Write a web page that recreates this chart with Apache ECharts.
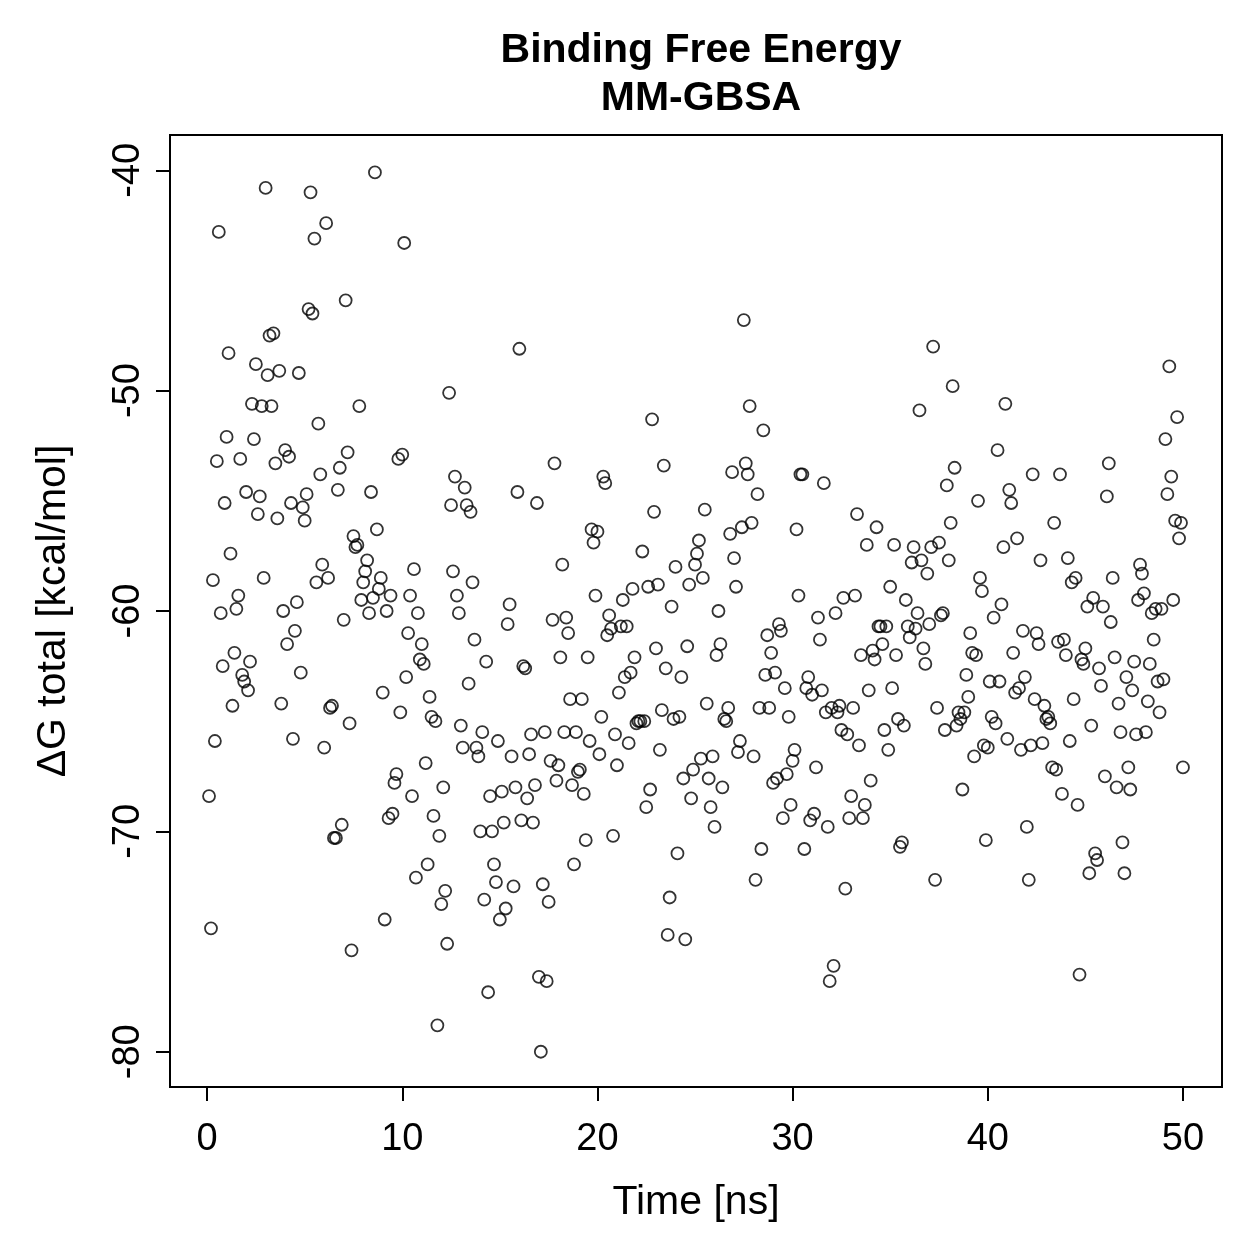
<!DOCTYPE html>
<html lang="en">
<head>
<meta charset="utf-8">
<title>Binding Free Energy MM-GBSA</title>
<script src="https://cdn.jsdelivr.net/npm/echarts@6/dist/echarts.min.js"></script>
<style>
body { margin: 0; background: #fff; }
#main { width: 1259px; height: 1259px; }
</style>
</head>
<body>
<div id="main"></div>
<script>
// frame spacing in ns (500 frames, 0.1 .. 50.0)
var frameStep = 0.1;
var xTicks = [0, 10, 20, 30, 40, 50];
var yTicks = [-80, -70, -60, -50, -40];

// dG total per frame [kcal/mol]
var dG = [
 -68.4,-74.4,-58.6,-65.9,-53.2,-42.8,-60.1,-62.5,-55.1,-52.1,
 -48.3,-57.4,-64.3,-61.9,-59.9,-59.3,-53.1,-62.9,-63.2,-54.6,
 -63.6,-62.3,-50.6,-52.2,-48.8,-55.6,-54.8,-50.7,-58.5,-40.8,
 -49.3,-47.5,-50.7,-47.4,-53.3,-55.8,-49.1,-64.2,-60.0,-52.7,
 -61.5,-53.0,-55.1,-65.8,-60.9,-59.6,-49.2,-62.8,-55.3,-55.9,
 -54.7,-46.3,-41.0,-46.5,-43.1,-58.7,-51.5,-53.8,-57.9,-66.2,
 -42.4,-58.5,-64.4,-64.3,-70.3,-70.3,-54.5,-53.5,-69.7,-60.4,
 -45.9,-52.8,-65.1,-75.4,-56.6,-57.1,-57.0,-50.7,-59.5,-58.7,
 -58.2,-57.7,-60.1,-54.6,-59.4,-40.1,-56.3,-59.0,-58.5,-63.7,
 -74.0,-60.0,-69.4,-59.3,-69.2,-67.8,-67.4,-53.1,-64.6,-52.9,
 -43.3,-63.0,-61.0,-59.3,-68.4,-58.1,-72.1,-60.1,-62.2,-61.5,
 -62.4,-66.9,-71.5,-63.9,-64.8,-69.3,-65.0,-78.8,-70.2,-73.3,
 -68.0,-72.7,-75.1,-50.1,-55.2,-58.2,-53.9,-59.3,-60.1,-65.2,
 -66.2,-54.4,-55.2,-63.3,-55.5,-58.7,-61.3,-66.2,-66.6,-70.0,
 -65.5,-73.1,-62.3,-77.3,-68.4,-70.0,-71.5,-72.3,-65.9,-74.0,
 -68.2,-69.6,-73.5,-60.6,-59.7,-66.6,-72.5,-68.0,-54.6,-48.1,
 -69.5,-62.5,-62.6,-68.5,-66.5,-65.6,-69.6,-67.9,-55.1,-76.6,
 -80.0,-72.4,-65.5,-76.8,-73.2,-66.8,-60.4,-53.3,-67.7,-67.0,
 -62.1,-57.9,-65.5,-60.3,-61.0,-64.0,-67.9,-71.5,-65.5,-67.3,
 -67.2,-64.0,-68.3,-70.4,-62.1,-65.9,-56.3,-56.9,-59.3,-56.4,
 -66.5,-64.8,-53.9,-54.2,-61.1,-60.2,-60.8,-70.2,-65.6,-67.0,
 -63.7,-60.7,-59.5,-63.0,-60.7,-66.0,-62.8,-59.0,-62.1,-65.1,
 -65.0,-65.0,-57.3,-65.0,-68.9,-58.9,-68.1,-51.3,-55.5,-61.7,
 -58.8,-66.3,-64.5,-53.4,-62.6,-74.7,-73.0,-59.8,-64.9,-58.0,
 -71.0,-64.8,-63.0,-67.6,-74.9,-61.6,-58.8,-68.5,-67.2,-57.9,
 -57.4,-56.8,-66.7,-58.5,-55.4,-64.2,-67.6,-68.9,-66.6,-69.8,
 -62.0,-60.0,-61.5,-68.0,-64.9,-65.0,-64.4,-56.5,-53.7,-57.6,
 -58.9,-66.4,-65.9,-56.2,-46.8,-53.3,-53.8,-50.7,-56.0,-66.6,
 -72.2,-54.7,-64.4,-70.8,-51.8,-62.9,-61.1,-64.4,-61.9,-67.8,
 -62.8,-67.6,-60.6,-60.9,-69.4,-63.5,-67.4,-64.8,-68.8,-66.8,
 -66.3,-56.3,-59.3,-53.8,-53.8,-70.8,-63.5,-63.0,-69.5,-63.8,
 -69.2,-67.1,-60.3,-61.3,-63.6,-54.2,-64.6,-69.8,-76.8,-64.4,
 -76.1,-60.1,-64.6,-64.3,-65.4,-59.4,-72.6,-65.6,-69.4,-68.4,
 -64.4,-59.3,-55.6,-66.1,-62.0,-69.4,-68.8,-57.0,-63.6,-67.7,
 -61.8,-62.2,-56.2,-60.7,-60.7,-61.5,-65.4,-60.7,-66.3,-58.9,
 -63.5,-57.0,-62.0,-64.9,-70.7,-70.5,-65.2,-59.5,-60.7,-61.2,
 -57.8,-57.1,-60.8,-60.1,-50.9,-57.7,-61.7,-62.4,-58.3,-60.6,
 -57.1,-48.0,-72.2,-64.4,-56.9,-60.2,-60.1,-65.4,-54.3,-57.7,
 -56.0,-49.8,-53.5,-65.2,-64.6,-64.9,-68.1,-64.6,-62.9,-63.9,
 -61.0,-61.9,-66.6,-62.0,-55.0,-58.5,-59.1,-66.1,-70.4,-66.2,
 -63.2,-64.8,-60.3,-65.1,-52.7,-63.2,-59.7,-57.1,-50.6,-65.8,
 -54.5,-55.1,-61.9,-63.7,-56.7,-63.5,-66.3,-60.9,-63.0,-69.8,
 -72.2,-66.1,-53.8,-64.0,-61.0,-61.5,-57.7,-66.0,-64.3,-64.9,
 -64.8,-65.1,-67.1,-56.0,-67.2,-61.4,-53.8,-68.3,-61.3,-62.0,
 -57.6,-65.9,-58.7,-64.0,-58.5,-68.8,-76.5,-62.2,-62.4,-61.7,
 -59.8,-71.9,-65.2,-59.4,-71.0,-71.3,-62.6,-63.4,-59.8,-67.5,
 -54.8,-53.3,-60.5,-58.5,-62.1,-68.0,-64.2,-65.5,-70.5,-71.9,
 -63.0,-67.1,-68.1,-63.6,-62.3,-65.6,-59.5,-57.9,-58.3,-59.2,
 -65.5,-64.1,-62.4,-60.1,-61.3,-59.9,-63.2,-64.6,-59.9,-63.1,
 -52.2,-54.7,-48.9,-53.9,-59.5,-55.9,-51.2,-56.7,-56.0,-67.1
];

var points = dG.map(function (v, i) {
	return [+((i + 1) * frameStep).toFixed(1), v];
});

var myChart = echarts.init(document.getElementById('main'));

var font = 'Liberation Sans, Arial, Helvetica, sans-serif';

var option = {
	backgroundColor: '#fff',
	animation: false,
	title: {
		text: 'Binding Free Energy\nMM-GBSA',
		left: 696,
		top: 22,
		textAlign: 'center',
		textStyle: {
			fontFamily: font,
			fontWeight: 'bold',
			fontSize: 41,
			lineHeight: 48,
			color: '#000'
		}
	},
	grid: {
		left: 170,
		top: 135,
		width: 1052,
		height: 952,
		show: true,
		borderColor: '#000',
		borderWidth: 2,
		backgroundColor: 'transparent'
	},
	xAxis: {
		type: 'value',
		min: -1.9,
		max: 52,
		name: 'Time [ns]',
		nameLocation: 'middle',
		nameGap: 95,
		nameTextStyle: { fontFamily: font, fontSize: 41, color: '#000' },
		axisLine: { show: false, onZero: false },
		splitLine: { show: false },
		axisTick: {
			show: true,
			inside: false,
			length: 14,
			customValues: xTicks,
			lineStyle: { color: '#000', width: 2 }
		},
		axisLabel: {
			customValues: xTicks,
			margin: 34,
			fontFamily: font,
			fontSize: 38,
			color: '#000'
		}
	},
	yAxis: {
		type: 'value',
		min: -81.6,
		max: -38.4,
		name: 'ΔG total [kcal/mol]',
		nameLocation: 'middle',
		nameRotate: 90,
		nameGap: 96,
		nameTextStyle: { fontFamily: font, fontSize: 41, color: '#000' },
		axisLine: { show: false, onZero: false },
		splitLine: { show: false },
		axisTick: {
			show: true,
			inside: false,
			length: 14,
			customValues: yTicks,
			lineStyle: { color: '#000', width: 2 }
		},
		axisLabel: {
			customValues: yTicks,
			rotate: 90,
			margin: 22,
			fontFamily: font,
			fontSize: 38,
			color: '#000'
		}
	},
	series: [{
		type: 'scatter',
		data: points,
		symbol: 'circle',
		symbolSize: 12,
		itemStyle: {
			color: 'transparent',
			borderColor: '#000',
			borderWidth: 1.8
		}
	}]
};

myChart.setOption(option);
</script>
</body>
</html>
